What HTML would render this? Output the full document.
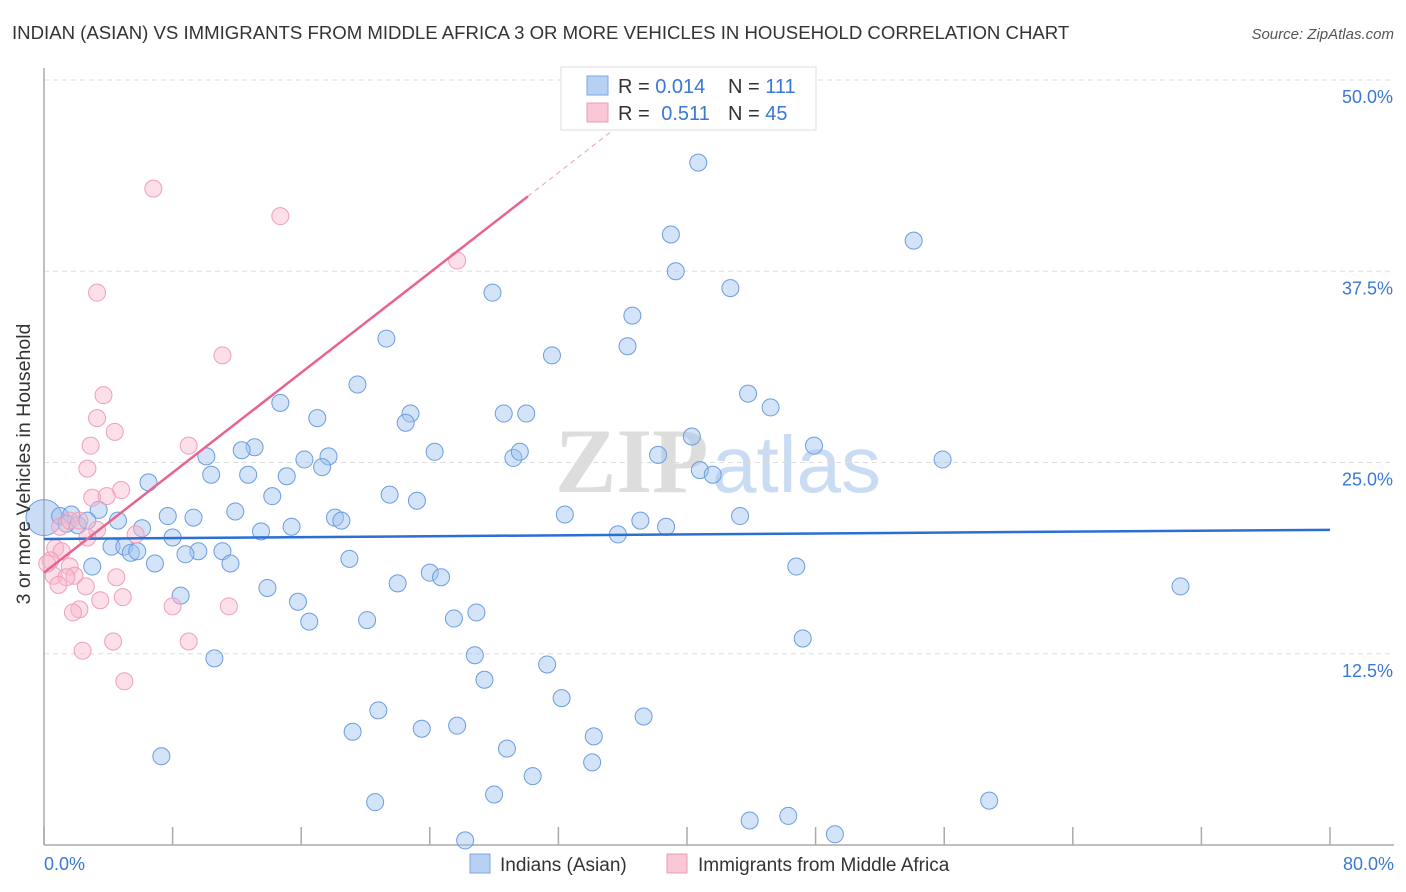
<!DOCTYPE html>
<html><head><meta charset="utf-8"><style>
body{margin:0;background:#fff;font-family:"Liberation Sans",sans-serif;}
svg{display:block}
</style></head><body>
<svg id="chart" width="1406" height="892" xmlns="http://www.w3.org/2000/svg">
<text x="12" y="39" font-size="18.6" fill="#333">INDIAN (ASIAN) VS IMMIGRANTS FROM MIDDLE AFRICA 3 OR MORE VEHICLES IN HOUSEHOLD CORRELATION CHART</text>
<text x="1394" y="39" font-size="15" fill="#555" font-style="italic" text-anchor="end">Source: ZipAtlas.com</text>
<g><text x="555" y="492" font-size="92" font-family="Liberation Serif,serif" fill="#ddd" font-weight="bold">ZIP</text><text x="712" y="492" font-size="80" fill="#c9dcf3">atlas</text></g>
<g id="grid"></g>
<g id="axes"></g>
<g id="pts"></g>
<g id="trend"></g>
<g>
<rect x="561" y="67" width="255" height="63" fill="#fff" stroke="#ddd"/>
<rect x="587" y="76" width="21" height="19" fill="#b8d1f3" stroke="#7aa6e6"/>
<rect x="587" y="103" width="21" height="19" fill="#f9c7d6" stroke="#ee9bb6"/>
<text x="618" y="93" font-size="20" fill="#333">R = <tspan fill="#3a78d4">0.014</tspan></text>
<text x="728" y="93" font-size="20" fill="#333">N = <tspan fill="#3a78d4">111</tspan></text>
<text x="618" y="120" font-size="20" fill="#333">R = <tspan fill="#3a78d4" dx="6">0.511</tspan></text>
<text x="728" y="120" font-size="20" fill="#333">N = <tspan fill="#3a78d4">45</tspan></text>
</g>
<g>
<rect x="470" y="854" width="20" height="19" fill="#b8d1f3" stroke="#7aa6e6"/>
<text x="500" y="871" font-size="19" fill="#333">Indians (Asian)</text>
<rect x="667" y="854" width="20" height="19" fill="#f9c7d6" stroke="#ee9bb6"/>
<text x="698" y="871" font-size="19" fill="#333">Immigrants from Middle Africa</text>
</g>
<text x="22" y="456" font-size="19.5" fill="#333" transform="rotate(-90 30 456)" text-anchor="middle">3 or more Vehicles in Household</text>
</svg>
<script>
const blueX=[40.7,39.0,39.3,54.1,42.7,27.9,36.6,36.3,21.3,31.6,19.5,43.8,45.2,14.7,22.8,22.5,17.0,28.6,30.0,40.3,47.9,13.1,12.3,24.3,10.1,16.2,17.7,17.3,29.2,29.6,38.2,55.9,40.8,41.6,10.4,12.7,15.1,6.5,21.5,14.2,23.2,11.9,32.4,43.3,37.1,38.7,35.7,7.7,9.3,18.1,18.5,4.6,3.4,6.1,13.5,15.4,8.0,4.2,5.0,5.4,5.8,9.6,8.8,11.1,11.6,6.9,19.0,3.0,46.8,24.0,24.7,22.0,13.9,8.5,15.8,70.7,16.5,20.1,25.5,26.9,47.2,10.6,26.8,31.3,27.4,32.2,20.8,37.3,25.7,23.5,19.2,34.2,28.8,7.3,30.4,34.1,28.0,20.6,58.8,43.9,46.3,49.2,26.2,1.0,1.7,1.4,2.1,2.7];
const blueY=[44.6,39.9,37.5,39.5,36.4,36.1,34.6,32.6,33.1,32.0,30.1,29.5,28.6,28.9,28.2,27.6,27.9,28.2,28.2,26.7,26.1,26.0,25.8,25.7,25.4,25.2,25.4,24.7,25.3,25.7,25.5,25.2,24.5,24.2,24.2,24.2,24.1,23.7,22.9,22.8,22.5,21.8,21.6,21.5,21.2,20.8,20.3,21.5,21.4,21.4,21.2,21.2,21.9,20.7,20.5,20.8,20.1,19.5,19.5,19.1,19.2,19.2,19.0,19.2,18.4,18.4,18.7,18.2,18.2,17.8,17.5,17.1,16.8,16.3,15.9,16.9,14.6,14.7,14.8,15.2,13.5,12.2,12.4,11.8,10.8,9.6,8.8,8.4,7.8,7.6,7.4,7.1,6.3,5.8,4.5,5.4,3.3,2.8,2.9,1.6,1.9,0.7,0.3,21.5,21.6,21.0,20.9,21.2];
const bigX=[0.0], bigY=[21.4];
const pinkX=[6.8,14.7,3.3,25.7,11.1,3.7,3.3,4.4,2.9,9.0,2.7,4.8,3.0,3.9,3.3,5.7,2.7,0.7,1.1,0.4,1.6,1.9,0.6,1.4,0.9,0.2,4.5,2.6,4.9,3.5,8.0,11.5,2.2,1.8,4.3,9.0,2.4,5.0,1.0,1.6,2.2];
const pinkY=[42.9,41.1,36.1,38.2,32.0,29.4,27.9,27.0,26.1,26.1,24.6,23.2,22.7,22.8,20.6,20.3,20.1,19.4,19.2,18.6,18.2,17.6,17.6,17.5,17.0,18.4,17.5,16.9,16.2,16.0,15.6,15.6,15.4,15.2,13.3,13.3,12.7,10.7,20.8,21.2,21.2];
const blueTrend=[20.0,20.6];
const pinkTrend=[17.8,0.817];
const yTicks=[12.5,25.0,37.5,50.0];
const yTickLabels=["12.5%","25.0%","37.5%","50.0%"];
const xTicks=[0,8,16,24,32,40,48,56,64,72,80];
const xEdgeLabels=["0.0%","80.0%"];
const X=v=>44+v*16.075, Y=v=>845-v*15.3;
const NS="http://www.w3.org/2000/svg";
function mk(parent,tag,attrs){const e=document.createElementNS(NS,tag);for(const k in attrs)e.setAttribute(k,attrs[k]);document.getElementById(parent).appendChild(e);return e;}
yTicks.forEach((t,i)=>{
 const l=mk('grid','line',{x1:44,x2:1394,y1:Y(t),y2:Y(t),stroke:'#ddd','stroke-dasharray':'5,4'});
 
 
 const tx=mk('axes','text',{x:1393,y:Y(t)+23,'font-size':18,fill:'#3a78d4','text-anchor':'end'});
 tx.textContent=yTickLabels[i];
 
 
});
const ax=mk('axes','line',{x1:44,x2:44,y1:68,y2:845,stroke:'#aaa','stroke-width':1.5});


const bx=mk('axes','line',{x1:44,x2:1394,y1:845,y2:845,stroke:'#aaa','stroke-width':1.5});


xTicks.forEach(t=>{
 const l=mk('axes','line',{x1:X(t),x2:X(t),y1:827,y2:845,stroke:'#aaa','stroke-width':1.5});
 
 
});
[[0,'start',44],[1,'end',1394]].forEach(([i,a,x])=>{
 const t=mk('axes','text',{x:x,y:870,'font-size':18,fill:'#3a78d4','text-anchor':a});
 t.textContent=xEdgeLabels[i];
 
 
});
bigX.forEach((v,i)=>{
 const c=mk('pts','circle',{cx:X(v),cy:Y(bigY[i]),r:18,fill:'rgba(140,180,235,0.45)',stroke:'#6b9de0','stroke-width':1});
 
 
});
blueX.forEach((v,i)=>{
 const c=mk('pts','circle',{cx:X(v),cy:Y(blueY[i]),r:8.5,fill:'rgba(160,195,240,0.45)',stroke:'#6b9de0','stroke-width':1});
 
 
});
pinkX.forEach((v,i)=>{
 const c=mk('pts','circle',{cx:X(v),cy:Y(pinkY[i]),r:8.5,fill:'rgba(248,185,205,0.45)',stroke:'#ef9fba','stroke-width':1});
 
 
});
const bl=mk('trend','line',{x1:X(0),y1:Y(blueTrend[0]),x2:X(80),y2:Y(blueTrend[1]),stroke:'#2a6fd6','stroke-width':2.5});


const pf=v=>pinkTrend[0]+pinkTrend[1]*v;
const pl=mk('trend','line',{x1:X(0),y1:Y(pf(0)),x2:X(30.1),y2:Y(pf(30.1)),stroke:'#e8648f','stroke-width':2.5});


const pd=mk('trend','line',{x1:X(30.1),y1:Y(pf(30.1)),x2:X(36),y2:Y(pf(36)),stroke:'#e8a0b8','stroke-width':1,'stroke-dasharray':'5,4'});


</script>
</body></html>
